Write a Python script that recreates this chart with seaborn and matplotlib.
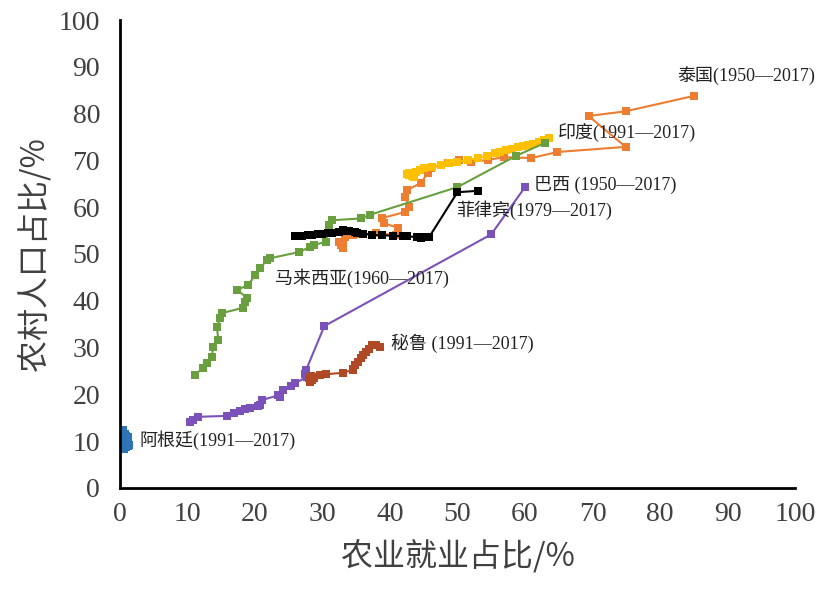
import matplotlib
matplotlib.use("Agg")
import matplotlib.pyplot as plt
import seaborn as sns
import pandas as pd

# data (农业就业占比 x, 农村人口占比 y)
thai_x = [85.0, 74.9, 69.4, 74.9, 64.8, 60.9, 56.9, 54.5, 52.0, 50.2, 48.6, 46.1, 45.6, 44.6,
          42.6, 42.3, 42.8, 42.3, 38.9, 39.1, 41.2, 40.9, 38.0, 35.5, 34.6, 33.4, 33.1, 32.4, 32.7, 33.0]
thai_y = [83.8, 80.5, 79.5, 72.9, 71.8, 70.5, 70.7, 70.1, 69.7, 70.1, 69.4, 68.4, 67.3, 65.2,
          63.7, 62.2, 60.0, 59.0, 57.7, 56.6, 55.6, 54.1, 54.4, 54.2, 54.0, 53.6, 52.3, 52.6, 51.9, 51.3]

india_x = [63.6, 62.8, 62.0, 61.2, 60.5, 59.7, 59.0, 58.1, 57.2, 56.3, 55.5, 54.3, 53.0, 51.5,
           50.0, 48.8, 47.5, 46.2, 45.0, 44.4, 43.8, 43.3, 42.8, 42.6, 42.9, 43.2, 43.5]
india_y = [74.8, 74.4, 74.0, 73.6, 73.3, 73.1, 72.9, 72.5, 72.2, 71.9, 71.5, 71.0, 70.5, 70.1,
           69.7, 69.4, 69.0, 68.7, 68.4, 68.0, 67.5, 67.4, 67.3, 67.0, 66.8, 66.6, 66.5]

malay_x = [62.9, 58.7, 50.0, 37.1, 35.7, 31.4, 31.0, 30.8, 30.5, 28.7, 28.2, 26.5, 22.3, 21.8,
           20.8, 20.1, 19.0, 17.4, 18.9, 18.6, 18.3, 15.2, 14.9, 14.4, 14.6, 13.8, 13.7, 12.9, 12.3, 11.1]
malay_y = [73.7, 71.0, 64.3, 58.4, 57.6, 57.2, 56.2, 54.5, 52.6, 51.9, 51.5, 50.4, 49.1, 48.7,
           47.0, 45.5, 43.4, 42.3, 40.6, 39.7, 38.5, 37.4, 36.3, 34.4, 31.6, 30.1, 28.0, 26.7, 25.6, 24.1]

phil_x = [53.0, 50.0, 45.8, 44.9, 44.6, 44.0, 42.5, 41.9, 40.4, 38.9, 37.4, 36.0, 35.2, 34.9,
          33.9, 33.7, 33.0, 32.4, 31.5, 30.9, 30.0, 29.4, 28.5, 27.9, 27.0, 26.0]
phil_y = [63.5, 63.2, 53.6, 53.7, 53.4, 53.6, 53.8, 53.8, 53.9, 54.0, 54.1, 54.3, 54.5, 54.7,
          54.9, 55.0, 55.1, 54.6, 54.5, 54.4, 54.3, 54.2, 54.0, 54.0, 53.8, 53.8]

brazil_x = [60.0, 55.0, 30.3, 27.6, 27.4, 27.7, 26.0, 25.3, 24.2, 23.8, 23.5, 21.1, 20.8, 20.5,
            19.3, 18.5, 17.8, 17.0, 15.9, 11.6, 10.8, 10.4]
brazil_y = [64.3, 54.2, 34.6, 25.2, 24.3, 23.7, 22.4, 21.8, 21.0, 19.5, 19.8, 18.8, 17.7, 17.5,
            17.1, 16.9, 16.5, 16.1, 15.4, 15.2, 14.5, 14.1]

peru_x = [38.6, 37.9, 37.4, 36.9, 36.4, 36.0, 35.7, 35.3, 34.9, 34.5, 34.5, 33.0, 30.5, 29.7,
          28.8, 28.2, 28.4, 28.6, 28.3, 28.0]
peru_y = [30.1, 30.5, 30.6, 29.8, 29.1, 28.4, 27.8, 27.0, 26.3, 25.4, 25.2, 24.6, 24.3, 24.1,
          23.6, 22.6, 23.1, 23.8, 24.0, 23.4]

arg_x = [0.5, 0.4, 0.6, 0.8, 1.0, 1.3, 1.1, 0.9, 0.7, 0.8, 1.0, 1.2, 1.4, 1.2, 0.9, 0.7,
         0.6, 0.5, 0.7, 0.9, 1.0, 0.8, 0.6, 0.5, 0.4, 0.6, 0.8]
arg_y = [12.3, 11.8, 11.5, 11.2, 11.0, 10.8, 10.5, 10.3, 10.0, 9.8, 9.6, 9.4, 9.2, 9.0, 8.7, 8.4,
         8.8, 9.0, 9.3, 9.6, 9.9, 10.1, 10.4, 10.7, 11.0, 11.3, 11.6]

countries = ["泰国", "印度", "马来西亚", "菲律宾", "巴西", "秘鲁", "阿根廷"]
colors = ["#ED7D31", "#FFC000", "#6A9F3F", "#000000", "#7B52B9", "#B04A26", "#2E75B6"]
labels = ["泰国(1950—2017)", "印度(1991—2017)", "马来西亚(1960—2017)", "菲律宾(1979—2017)",
          "巴西 (1950—2017)", "秘鲁 (1991—2017)", "阿根廷(1991—2017)"]
label_x = [82.6, 64.9, 23.0, 49.8, 61.4, 40.1, 3.0]
label_y = [88.2, 75.9, 44.9, 59.4, 64.7, 31.0, 10.3]

series = [(thai_x, thai_y), (india_x, india_y), (malay_x, malay_y), (phil_x, phil_y),
          (brazil_x, brazil_y), (peru_x, peru_y), (arg_x, arg_y)]
frames = []
for name, (xs, ys) in zip(countries, series):
    frames.append(pd.DataFrame({"country": name, "x": xs, "y": ys}))
df = pd.concat(frames, ignore_index=True)

sns.set_style("white")
plt.rcParams['font.family'] = ['Liberation Serif', 'Noto Sans CJK SC']

fig = plt.figure(figsize=(8.25, 5.9), dpi=100)
ax = fig.add_axes([0.145, 0.173, 0.819, 0.793])

sns.lineplot(data=df, x="x", y="y", hue="country", hue_order=countries,
             palette=dict(zip(countries, colors)), sort=False, estimator=None,
             marker="s", markersize=5.5, markeredgewidth=0, linewidth=1.5,
             legend=False, ax=ax)

for t, lx, ly in zip(labels, label_x, label_y):
    ax.text(lx, ly, t, fontsize=13, color="#222222", va="center", ha="left",
            family=['Liberation Serif', 'Noto Sans CJK SC'])

ax.set_xlim(0, 100)
ax.set_ylim(0, 100)
ax.set_xticks(range(0, 101, 10))
ax.set_yticks(range(0, 101, 10))
ax.tick_params(labelsize=20, length=0, colors="#404040")
ax.tick_params(axis="x", pad=10)
ax.tick_params(axis="y", pad=14)
sns.despine(ax=ax)
for s in ["left", "bottom"]:
    ax.spines[s].set_color("black")
    ax.spines[s].set_linewidth(2)
ax.set_xlabel("农业就业占比/%", fontsize=23, color="#404040", family=['Noto Sans CJK SC'], labelpad=9)
ax.set_ylabel("农村人口占比/%", fontsize=23, color="#404040", family=['Noto Sans CJK SC'], labelpad=6)

plt.savefig("out.png", dpi=100)
